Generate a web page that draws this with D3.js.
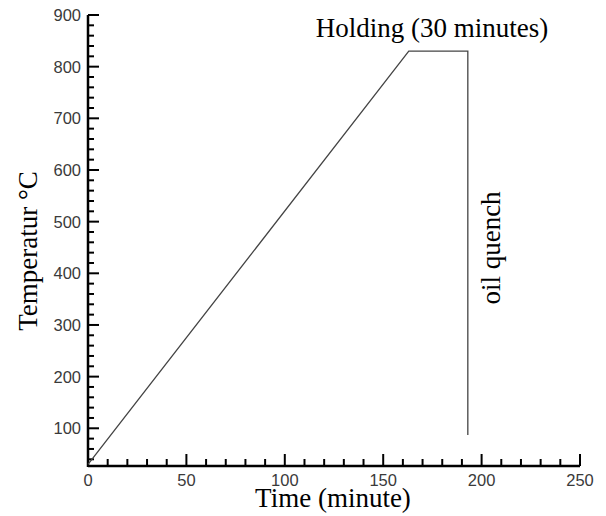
<!DOCTYPE html>
<meta charset="utf-8">
<html>
<style>
  body { margin: 0; background: #fff; }
  .chart text.tick-label {
    fill: #3a3a3a;
    font: 16.5px Arial, "Liberation Sans", sans-serif;
  }
  .chart text.title {
    fill: #000;
    font: 27px "Liberation Serif", "Times New Roman", serif;
  }
</style>
<script type="text/javascript" src="https://cdn.jsdelivr.net/npm/d3@7/dist/d3.min.js"></script>

<body>
  <svg class="chart"></svg>
</body>
<script>
  var width = 606;
  var height = 516;

  // heat treatment cycle
  var times = [0, 163, 193, 193];
  var temps = [30, 830, 830, 87];

  var xTicks = [0, 50, 100, 150, 200, 250];
  var yTicks = [100, 200, 300, 400, 500, 600, 700, 800, 900];

  var x = d3.scaleLinear().domain([0, 250]).range([88, 580]);
  var y = d3.scaleLinear().domain([27, 900]).range([466, 15]);

  var chart = d3.select(".chart")
    .attr("width", width)
    .attr("height", height);

  // minor ticks
  var xMinor = d3.range(0, 251, 10);
  var yMinor = d3.range(40, 901, 20);

  chart.selectAll(".xminor")
    .data(xMinor)
    .enter().append("line")
    .attr("x1", function(d) { return x(d); })
    .attr("x2", function(d) { return x(d); })
    .attr("y1", y.range()[0])
    .attr("y2", function(d) { return y.range()[0] - (d % 50 === 0 ? 12 : 7); })
    .attr("stroke", "#000")
    .attr("stroke-width", 2);

  chart.selectAll(".yminor")
    .data(yMinor)
    .enter().append("line")
    .attr("y1", function(d) { return y(d); })
    .attr("y2", function(d) { return y(d); })
    .attr("x1", x.range()[0])
    .attr("x2", function(d) { return x.range()[0] + (d % 100 === 0 ? 11 : 6); })
    .attr("stroke", "#000")
    .attr("stroke-width", 2);

  // axis lines
  chart.append("line")
    .attr("x1", x.range()[0]).attr("x2", x.range()[1])
    .attr("y1", y.range()[0]).attr("y2", y.range()[0])
    .attr("stroke", "#000").attr("stroke-width", 2.5);
  chart.append("line")
    .attr("x1", x.range()[0]).attr("x2", x.range()[0])
    .attr("y1", y.range()[0] + 1).attr("y2", y.range()[1])
    .attr("stroke", "#000").attr("stroke-width", 2.5);

  // tick labels
  chart.selectAll(".xlab")
    .data(xTicks)
    .enter().append("text")
    .attr("class", "tick-label")
    .attr("x", function(d) { return x(d); })
    .attr("y", 486)
    .attr("text-anchor", "middle")
    .text(function(d) { return d; });

  chart.selectAll(".ylab")
    .data(yTicks)
    .enter().append("text")
    .attr("class", "tick-label")
    .attr("x", 81)
    .attr("y", function(d) { return y(d) + 6; })
    .attr("text-anchor", "end")
    .text(function(d) { return d; });

  // the curve
  var line = d3.line()
    .x(function(d) { return x(d[0]); })
    .y(function(d) { return y(d[1]); });

  chart.append("path")
    .datum(d3.zip(times, temps))
    .attr("d", line)
    .attr("fill", "none")
    .attr("stroke", "#444")
    .attr("stroke-width", 1.3);

  // titles
  chart.append("text")
    .attr("class", "title")
    .attr("x", 333)
    .attr("y", 507)
    .attr("text-anchor", "middle")
    .text("Time (minute)");

  chart.append("text")
    .attr("class", "title")
    .attr("transform", "translate(37,251) rotate(-90)")
    .attr("text-anchor", "middle")
    .text("Temperatur \u00B0C");

  chart.append("text")
    .attr("class", "title")
    .attr("x", 432)
    .attr("y", 37)
    .attr("text-anchor", "middle")
    .text("Holding (30 minutes)");

  chart.append("text")
    .attr("class", "title")
    .attr("transform", "translate(500,248) rotate(-90)")
    .attr("text-anchor", "middle")
    .text("oil quench");
</script>

</html>
